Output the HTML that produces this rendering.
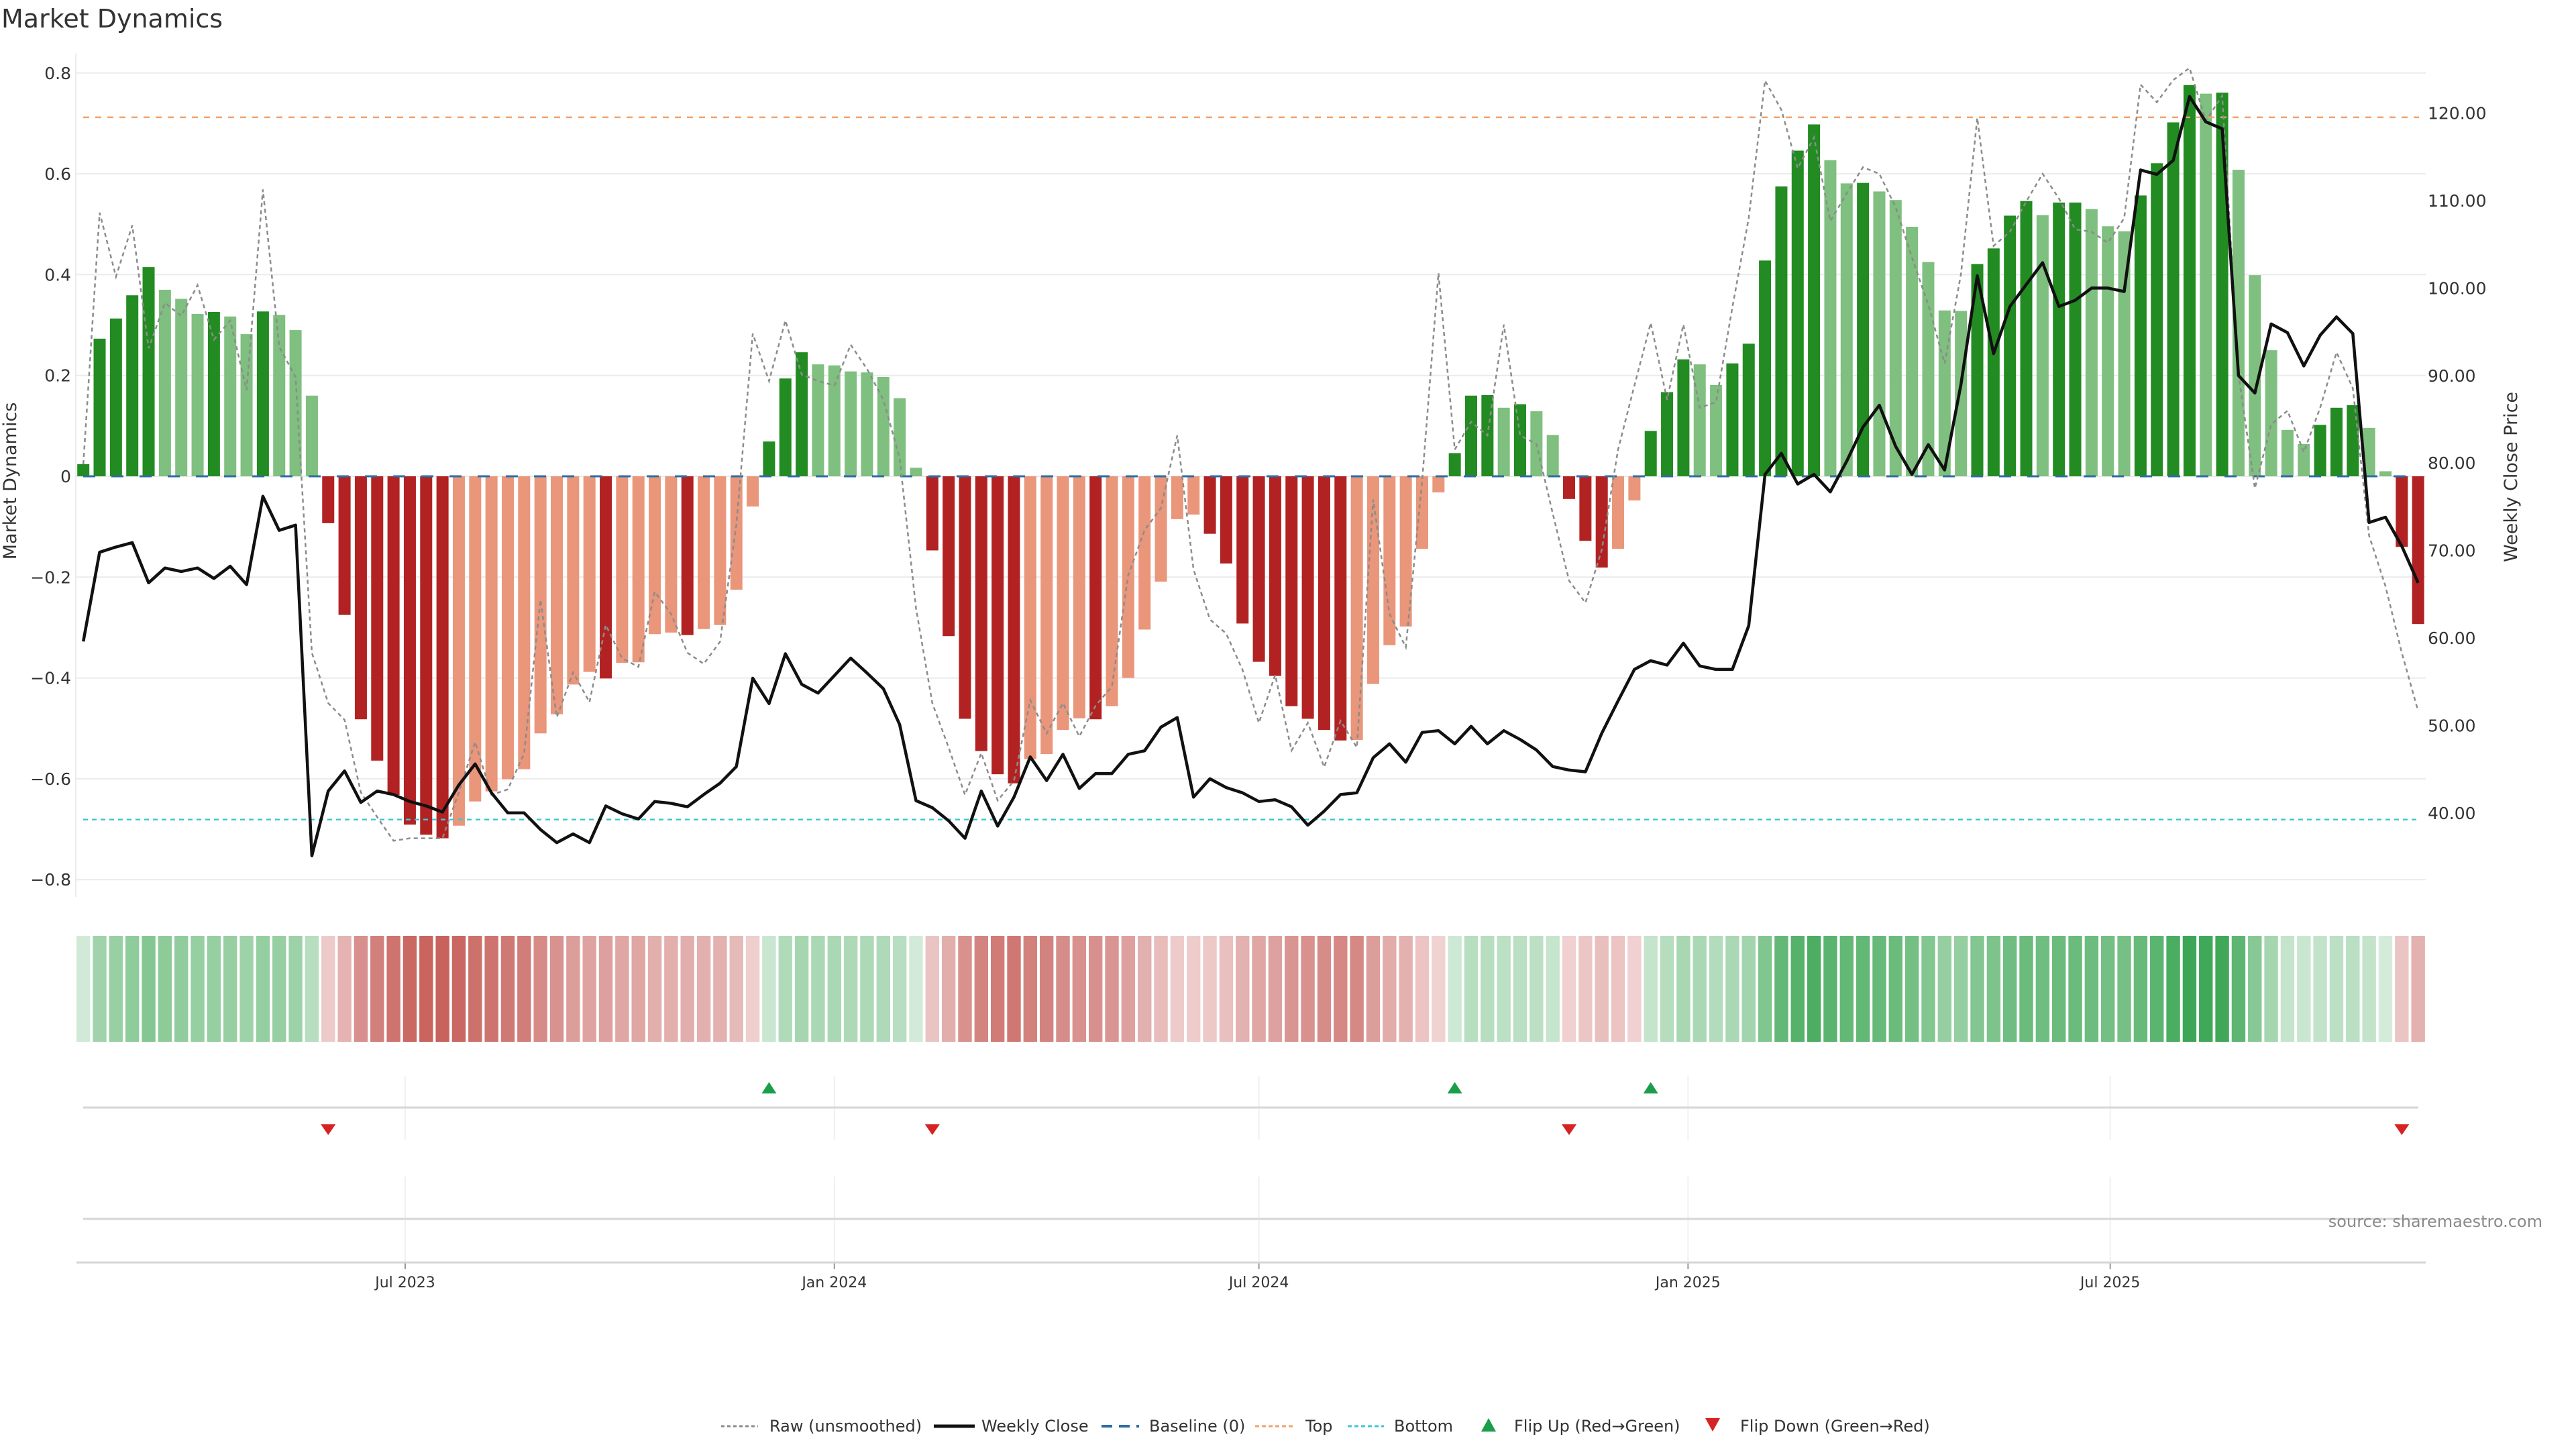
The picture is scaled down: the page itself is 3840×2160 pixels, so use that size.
<!DOCTYPE html>
<html><head><meta charset="utf-8"><title>Market Dynamics</title>
<style>
html,body{margin:0;padding:0;background:#fff;}
svg{display:block;font-family:"DejaVu Sans","Liberation Sans",sans-serif;}
</style></head>
<body>
<svg id="chart" width="3840" height="2160" viewBox="0 0 3840 2160" xmlns="http://www.w3.org/2000/svg">
<rect x="0" y="0" width="3840" height="2160" fill="#fff"/>
<text x="2" y="41" font-size="38" fill="#333">Market Dynamics</text>
<g id="grid"></g>
<g id="bars"></g>
<g id="refs"></g>
<g id="lines"></g>
<g id="axes"></g>
<g id="heat"></g>
<g id="flips"></g>
<g id="xaxis"></g>
<text transform="translate(24,717) rotate(-90)" text-anchor="middle" font-size="27" fill="#333">Market Dynamics</text>
<text transform="translate(3752,711) rotate(-90)" text-anchor="middle" font-size="27" fill="#333">Weekly Close Price</text>
<text x="3790" y="1829" text-anchor="end" font-size="24" fill="#8a8a8a">source: sharemaestro.com</text>
<g id="legend"></g>
</svg>
<script>
const startDate = '2023-02-13';
const momentum = [0.024,0.273,0.313,0.359,0.415,0.370,0.352,0.322,0.326,0.317,0.282,0.327,0.320,0.290,0.160,
-0.093,-0.275,-0.482,-0.564,-0.632,-0.691,-0.711,-0.718,-0.693,-0.645,-0.625,-0.601,-0.581,-0.510,-0.472,-0.413,-0.388,-0.401,-0.370,-0.369,-0.313,-0.310,
-0.315,-0.303,-0.295,-0.225,-0.060,0.069,0.194,0.246,0.222,0.220,0.208,0.206,0.197,0.155,0.017,
-0.147,-0.317,-0.481,-0.545,-0.591,-0.609,-0.561,-0.551,-0.503,-0.480,-0.482,-0.456,-0.400,-0.304,-0.209,-0.085,-0.076,-0.114,-0.173,-0.292,-0.368,-0.396,
-0.456,-0.481,-0.503,-0.524,-0.523,-0.412,-0.335,-0.298,-0.144,-0.032,
0.046,0.160,0.161,0.136,0.143,0.129,0.082,-0.045,-0.128,-0.181,-0.144,-0.048,
0.090,0.167,0.232,0.222,0.181,0.224,0.263,0.428,0.575,0.646,0.698,0.627,0.581,0.582,0.565,0.548,
0.495,0.425,0.329,0.328,0.421,0.452,0.517,0.546,0.518,0.543,0.543,0.530,0.496,0.486,0.557,0.621,0.702,0.776,0.759,0.761,0.608,0.399,0.250,0.092,0.064,0.102,0.136,0.141,0.096,0.010,-0.140,-0.293];
const closePrice = [59.6,69.8,70.4,70.9,66.3,68.0,67.6,68.0,66.8,68.2,66.1,76.2,72.3,72.9,35.1,42.5,44.8,41.2,42.5,42.1,41.3,40.8,40.1,43.2,45.6,42.3,40.0,40.0,38.1,36.6,37.6,36.6,40.8,39.9,39.3,41.3,41.1,
40.7,42.1,43.4,45.3,55.4,52.5,58.2,54.7,53.7,55.7,57.7,56.0,54.2,50.1,41.4,40.6,39.1,37.1,42.5,38.5,41.8,46.4,43.7,46.7,42.8,44.5,44.5,46.7,47.1,49.8,50.9,41.8,43.9,42.9,42.3,41.3,41.5,
40.7,38.6,40.2,42.1,42.3,46.3,47.9,45.8,49.2,49.4,47.9,49.9,47.9,49.4,48.4,47.2,45.3,44.9,44.7,49.1,52.8,56.4,57.4,56.9,59.4,56.8,56.4,56.4,61.4,78.7,81.1,77.6,78.7,76.7,80.2,84.1,86.6,
81.9,78.7,82.1,79.2,89.0,101.4,92.5,97.9,100.4,102.9,97.9,98.6,100.0,100.0,99.6,113.5,113.0,114.6,121.9,119.0,118.2,90.0,88.0,95.9,94.9,91.1,94.6,96.7,94.8,73.2,73.8,70.5,66.3];
const rawValues = [0.024,0.523,0.396,0.498,0.254,0.344,0.318,0.379,0.271,0.309,0.171,0.569,0.257,0.197,-0.350,-0.450,-0.483,-0.627,-0.676,-0.723,-0.718,-0.718,-0.718,-0.627,-0.527,-0.632,-0.621,-0.550,-0.245,-0.478,-0.389,-0.448,-0.295,-0.361,-0.378,-0.229,-0.273,
-0.350,-0.372,-0.328,-0.096,0.283,0.189,0.309,0.202,0.189,0.180,0.261,0.213,0.152,0.036,-0.262,-0.450,-0.538,-0.632,-0.549,-0.643,-0.604,-0.444,-0.510,-0.450,-0.516,-0.455,-0.417,-0.196,-0.107,-0.063,0.081,-0.185,-0.284,-0.312,-0.384,-0.489,-0.394,
-0.544,-0.489,-0.577,-0.485,-0.538,-0.046,-0.273,-0.339,-0.008,0.403,0.053,0.108,0.081,0.301,0.081,0.064,-0.074,-0.207,-0.251,-0.146,0.053,0.180,0.304,0.152,0.301,0.136,0.147,0.335,0.512,0.785,0.727,0.611,0.672,0.506,0.561,0.613,0.600,
0.534,0.434,0.340,0.224,0.401,0.711,0.457,0.485,0.545,0.600,0.551,0.490,0.485,0.463,0.512,0.777,0.742,0.786,0.810,0.705,0.755,0.202,-0.024,0.103,0.130,0.048,0.136,0.246,0.175,-0.118,-0.218,-0.350,-0.466];
const leftTicks = [0.8,0.6,0.4,0.2,0,-0.2,-0.4,-0.6,-0.8];
const rightTicks = [120,110,100,90,80,70,60,50,40];
const xTickDates = ['2023-07-01','2024-01-01','2024-07-01','2025-01-01','2025-07-01'];
const xTickLabels = ['Jul 2023','Jan 2024','Jul 2024','Jan 2025','Jul 2025'];
const topLevel = 0.712;
const bottomLevel = -0.681;

const NS='http://www.w3.org/2000/svg';
function mk(tag, attrs, parent){const e=document.createElementNS(NS,tag);for(const k in attrs)e.setAttribute(k,attrs[k]);parent.appendChild(e);return e;}
const ref0 = Date.UTC(2023,6,1);
function dayOf(s){const p=s.split('-');return (Date.UTC(+p[0],+p[1]-1,+p[2])-ref0)/86400000;}
function xDay(d){return 604 + d*3.477;}
const d0 = dayOf(startDate);
function xBar(i){return xDay(d0+7*i);}
function yL(v){return 710 - v*751.5;}
function yR(p){return 168.6 + (120-p)*13.04;}
const X0=114, X1=3616;

const grid=document.getElementById('grid');
const axes=document.getElementById('axes');
leftTicks.forEach(t=>{
  const gl=mk('line',{x1:X0,x2:X1,y1:yL(t),y2:yL(t),stroke:'#ebebeb','stroke-width':2},grid);
  
  
  const tl=mk('text',{x:106,y:yL(t)+9,'text-anchor':'end','font-size':25,fill:'#333'},axes);
  tl.textContent = t===0?'0':(t<0?'\u2212'+Math.abs(t).toFixed(1):t.toFixed(1));
  
  
});
rightTicks.forEach(t=>{
  const tl=mk('text',{x:3619,y:yR(t)+9,'font-size':25,fill:'#333'},axes);
  tl.textContent=t.toFixed(2);
  
  
});
const la=mk('line',{x1:113,x2:113,y1:80,y2:1337,stroke:'#ebebf0','stroke-width':2},axes);



const bars=document.getElementById('bars');
momentum.forEach((v,i)=>{
  const prev = i>0?momentum[i-1]:null;
  let c;
  if(v>=0) c=(prev===null||v>=prev)?'#228b22':'#7fbf7f';
  else c=(prev===null||v<=prev)?'#b22222':'#e9967a';
  const x=xBar(i)-9, y0=yL(0), y1=yL(v);
  const r=mk('rect',{x:x,y:Math.min(y0,y1),width:18,height:Math.max(1,Math.abs(y1-y0)),fill:c},bars);
  
  
});

const refs=document.getElementById('refs');
const bl=mk('line',{x1:124,x2:3606,y1:yL(0),y2:yL(0),stroke:'#2e6da4','stroke-width':3,'stroke-dasharray':'18 24'},refs);


const tp=mk('line',{x1:124,x2:3606,y1:yL(topLevel),y2:yL(topLevel),stroke:'#f0a36a','stroke-width':2.5,'stroke-dasharray':'9 9'},refs);


const bt=mk('line',{x1:124,x2:3606,y1:yL(bottomLevel),y2:yL(bottomLevel),stroke:'#3ec6d6','stroke-width':2.5,'stroke-dasharray':'7 6'},refs);



const lines=document.getElementById('lines');
const rawPts=rawValues.map((v,i)=>xBar(i).toFixed(1)+','+yL(v).toFixed(1)).join(' ');
const rl=mk('polyline',{points:rawPts,fill:'none',stroke:'#8c8c8c','stroke-width':2.5,'stroke-dasharray':'6 5'},lines);


const clPts=closePrice.map((p,i)=>xBar(i).toFixed(1)+','+yR(p).toFixed(1)).join(' ');
const cl=mk('polyline',{points:clPts,fill:'none',stroke:'#111','stroke-width':4.5,'stroke-linejoin':'round'},lines);



function lerp(a,b,t){return a.map((x,k)=>Math.round(x+(b[k]-x)*t));}
function heatColor(v){
  let c;
  if(v>=0){
    const s=[[0,[214,236,220]],[0.4,[135,200,148]],[0.8,[56,164,82]]];
    const t=Math.min(v,0.8);
    c = t<=0.4?lerp(s[0][1],s[1][1],t/0.4):lerp(s[1][1],s[2][1],(t-0.4)/0.4);
  } else {
    const s=[[0,[242,214,214]],[0.35,[224,170,168]],[0.72,[200,98,92]]];
    const t=Math.min(-v,0.72);
    c = t<=0.35?lerp(s[0][1],s[1][1],t/0.35):lerp(s[1][1],s[2][1],(t-0.35)/0.37);
  }
  return 'rgb('+c.join(',')+')';
}
const heat=document.getElementById('heat');
momentum.forEach((v,i)=>{
  const r=mk('rect',{x:xBar(i)-10.2,y:1395,width:20.4,height:158,fill:heatColor(v)},heat);
  
  
});

const flips=document.getElementById('flips');
const xa=document.getElementById('xaxis');
xTickDates.forEach((d,k)=>{
  const x=xDay(dayOf(d));
  const g1=mk('line',{x1:x,x2:x,y1:1604,y2:1699,stroke:'#eef0f2','stroke-width':2},flips);
  
  
  const g2=mk('line',{x1:x,x2:x,y1:1754,y2:1882,stroke:'#eef0f2','stroke-width':2},xa);
  
  
  const tk=mk('line',{x1:x,x2:x,y1:1883,y2:1892,stroke:'#999','stroke-width':2},xa);
  
  
  const tl=mk('text',{x:x,y:1919,'text-anchor':'middle','font-size':22,fill:'#333'},xa);
  tl.textContent=xTickLabels[k];
  
  
});
const fl=mk('line',{x1:124,x2:3605,y1:1651,y2:1651,stroke:'#d6d6d6','stroke-width':3},flips);


const ll=mk('line',{x1:124,x2:3616,y1:1817,y2:1817,stroke:'#d6d6d6','stroke-width':3},xa);


const xl=mk('line',{x1:114,x2:3616,y1:1882,y2:1882,stroke:'#d6d6d6','stroke-width':3},xa);


momentum.forEach((v,i)=>{
  if(i===0) return;
  const p=momentum[i-1];
  const x=xBar(i);
  if(p<0 && v>=0){
    const t=mk('polygon',{points:`${x-11},1630 ${x+11},1630 ${x},1613`,fill:'#1a9e4a'},flips);
    
    
  } else if(p>=0 && v<0){
    const t=mk('polygon',{points:`${x-11},1676 ${x+11},1676 ${x},1692`,fill:'#d62222'},flips);
    
    
  }
});

const lg=document.getElementById('legend');
const LY=2134;
function lt(x,s,name){const t=mk('text',{x:x,y:LY,'font-size':24,fill:'#333'},lg);t.textContent=s;}
let e;
e=mk('line',{x1:1075,x2:1130,y1:LY-8,y2:LY-8,stroke:'#8c8c8c','stroke-width':3,'stroke-dasharray':'5 4'},lg);


lt(1147,'Raw (unsmoothed)','legend-raw-label');
e=mk('line',{x1:1392,x2:1453,y1:LY-8,y2:LY-8,stroke:'#111','stroke-width':5},lg);


lt(1463,'Weekly Close','legend-close-label');
e=mk('line',{x1:1642,x2:1698,y1:LY-8,y2:LY-8,stroke:'#2e6da4','stroke-width':4,'stroke-dasharray':'16 10'},lg);


lt(1713,'Baseline (0)','legend-baseline-label');
e=mk('line',{x1:1871,x2:1930,y1:LY-8,y2:LY-8,stroke:'#f0a36a','stroke-width':3,'stroke-dasharray':'6 4'},lg);


lt(1946,'Top','legend-top-label');
e=mk('line',{x1:2009,x2:2063,y1:LY-8,y2:LY-8,stroke:'#3ec6d6','stroke-width':3,'stroke-dasharray':'6 4'},lg);


lt(2078,'Bottom','legend-bottom-label');
e=mk('polygon',{points:`2208,${LY} 2230,${LY} 2219,${LY-20}`,fill:'#1a9e4a'},lg);


lt(2257,'Flip Up (Red\u2192Green)','legend-flip-up-label');
e=mk('polygon',{points:`2542,${LY-20} 2564,${LY-20} 2553,${LY}`,fill:'#d62222'},lg);


lt(2594,'Flip Down (Green\u2192Red)','legend-flip-down-label');
</script>
</body></html>
